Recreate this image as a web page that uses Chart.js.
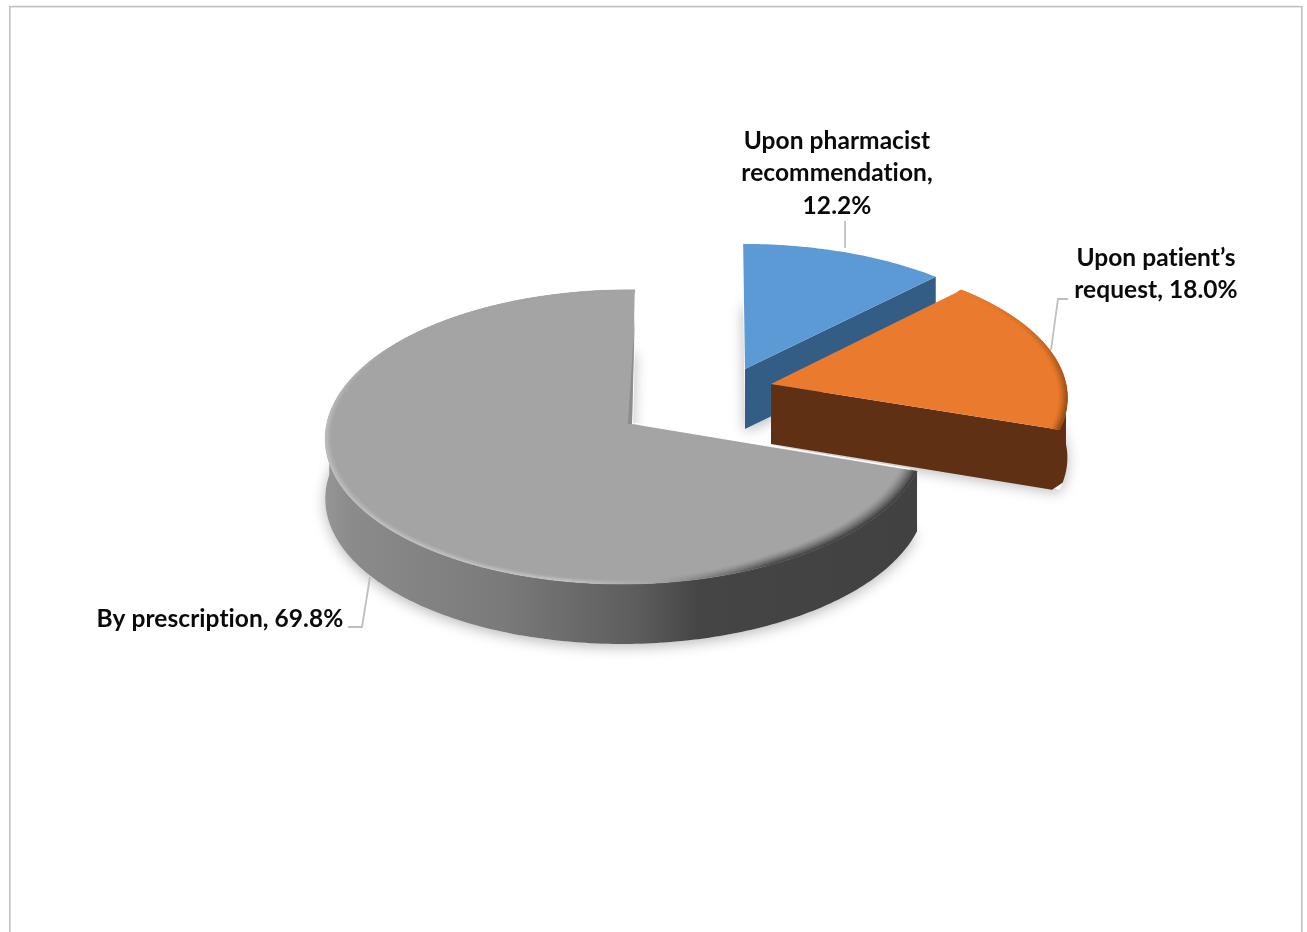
<!DOCTYPE html>
<html>
<head>
<meta charset="utf-8">
<title>Dispensing of medicines</title>
<script src="https://cdn.jsdelivr.net/npm/chart.js@4/dist/chart.umd.js"></script>
<style>
    html, body { margin: 0; padding: 0; background: #fff; overflow: hidden; }
    canvas { display: block; }
</style>
</head>
<body>
<canvas id="pie" width="1307" height="932"></canvas>
<script>
var categories = ["Upon pharmacist recommendation", "Upon patient\u2019s request", "By prescription"];
var shares = [12.2, 18.0, 69.8];
var faceColors = ["#5b9ad5", "#ea7b2e", "#a4a4a4"];

// how each slice lies on the tilted plate, relative to the pie centre
var sliceViews = [
    { dx: 91.5, dy: -97, sx: 0.632, sy: 0.292, persp: 0.088, lean: 0, shear: -2 },
    { dx: 117.5, dy: -82, sx: 0.633, sy: 0.298, persp: 0.088, lean: 0, shear: -3 },
    { dx: -21.5, dy: -42, sx: 0.642, sy: 0.313, persp: 0.088, lean: -0.02, shear: 3 }
];
var plateDepth = 60;

var wallFills = [
    [[0, "#335d84"], [1, "#335d84"]],
    [[0, "#5f3013"], [1, "#5f3013"]],
    [[0, "#959595"], [0.04, "#8b8b8b"], [0.3, "#7a7a7a"], [0.53, "#5c5c5c"], [0.63, "#454545"], [1, "#414141"]]
];

// bevel along the rim: [angle in degrees, colour, width as a share of the radius]
var rimStops = [
    [],
    [[-46, "#ea7b2e", 0.02], [-25, "#d46c25", 0.025], [-8, "#b05a1b", 0.03], [19, "#8f4816", 0.03]],
    [[18, "#3f3f3f", 0.055], [62, "#484848", 0.055], [84, "#a4a4a4", 0.03], [100, "#c2c2c2", 0.024],
        [180, "#bcbcbc", 0.02], [215, "#a4a4a4", 0.02], [270, "#a4a4a4", 0.02]]
];

var labelSpots = [
    { x: 837, y: 141, wrap: 215 },
    { x: 1156, y: 258, wrap: 175 },
    { x: 220, y: 619, wrap: 400 }
];
var labelFont = "bold 24.5px Lato";
var labelLeading = 32.5;
var leaderLines = [
    [[845, 221], [845, 248]],
    [[1068, 299], [1058, 299], [1051, 350]],
    [[348, 627], [362, 627], [370, 577]]
];

var project = function (arc, view, angle, r, drop) {
    var u = Math.cos(angle) * r;
    var v = Math.sin(angle) * r;
    var w = 1 / (1 - view.persp * v - view.lean * u);
    return {
        x: arc.x + view.dx + arc.outerRadius * view.sx * u * w - view.shear * v * w,
        y: arc.y + view.dy + arc.outerRadius * view.sy * v * w + drop
    };
};

var arcPoints = function (arc, view, from, to, r, drop) {
    var pts = [];
    var steps = Math.max(2, Math.ceil(Math.abs(to - from) / (Math.PI / 180)));
    for (var i = 0; i <= steps; i++) {
        pts.push(project(arc, view, from + (to - from) * i / steps, r, drop));
    }
    return pts;
};

var tracePath = function (ctx, pts) {
    ctx.beginPath();
    ctx.moveTo(pts[0].x, pts[0].y);
    for (var i = 1; i < pts.length; i++) {
        ctx.lineTo(pts[i].x, pts[i].y);
    }
    ctx.closePath();
};

var facePoints = function (arc, view, drop) {
    var pts = arcPoints(arc, view, arc.startAngle, arc.endAngle, 1, drop);
    pts.push(project(arc, view, 0, 0, drop));
    return pts;
};

var parseHex = function (hex) {
    return [parseInt(hex.slice(1, 3), 16), parseInt(hex.slice(3, 5), 16), parseInt(hex.slice(5, 7), 16)];
};

var mix = function (a, b, t) {
    return [a[0] + (b[0] - a[0]) * t, a[1] + (b[1] - a[1]) * t, a[2] + (b[2] - a[2]) * t];
};

var rimAt = function (stops, deg) {
    var last = stops[stops.length - 1];
    if (deg <= stops[0][0]) return { color: parseHex(stops[0][1]), width: stops[0][2] };
    for (var i = 1; i < stops.length; i++) {
        if (deg <= stops[i][0]) {
            var t = (deg - stops[i - 1][0]) / (stops[i][0] - stops[i - 1][0]);
            return {
                color: mix(parseHex(stops[i - 1][1]), parseHex(stops[i][1]), t),
                width: stops[i - 1][2] + (stops[i][2] - stops[i - 1][2]) * t
            };
        }
    }
    return { color: parseHex(last[1]), width: last[2] };
};

var drawRim = function (ctx, arc, view, i) {
    var stops = rimStops[i];
    if (!stops.length) return;
    var face = parseHex(faceColors[i]);
    var bands = 7;
    var step = Math.PI / 180;
    for (var b = 0; b < bands; b++) {
        var t = Math.pow((b + 1) / bands, 1.4);
        for (var a = arc.startAngle; a < arc.endAngle; a += step) {
            var next = Math.min(a + step, arc.endAngle);
            var rim = rimAt(stops, a * 180 / Math.PI);
            var rimNext = rimAt(stops, next * 180 / Math.PI);
            var c = mix(face, rim.color, t);
            var color = "rgb(" + Math.round(c[0]) + "," + Math.round(c[1]) + "," + Math.round(c[2]) + ")";
            tracePath(ctx, [
                project(arc, view, a, 1 - rim.width * (1 - b / bands), 0),
                project(arc, view, next, 1 - rimNext.width * (1 - b / bands), 0),
                project(arc, view, next, 1 - rimNext.width * (1 - (b + 1) / bands), 0),
                project(arc, view, a, 1 - rim.width * (1 - (b + 1) / bands), 0)
            ]);
            ctx.fillStyle = color;
            ctx.strokeStyle = color;
            ctx.lineWidth = 0.6;
            ctx.fill();
            ctx.stroke();
        }
    }
};

var drawWalls = function (ctx, arc, view, i) {
    var left = project(arc, view, Math.PI, 1, 0).x;
    var right = i === 2 ? project(arc, view, arc.startAngle, 1, 0).x : project(arc, view, 0, 1, 0).x;
    var fill = ctx.createLinearGradient(left, 0, right, 0);
    wallFills[i].forEach(function (stop) {
        fill.addColorStop(stop[0], stop[1]);
    });
    ctx.fillStyle = fill;

    var centre = project(arc, view, 0, 0, 0);
    var corner = project(arc, view, arc.endAngle, 1, 0);
    var cutVisible = Math.cos(arc.endAngle) > 0.01;
    var from = Math.max(arc.startAngle, 0);
    var to = Math.min(arc.endAngle, Math.PI * 1.02);

    if (cutVisible && to > from) {
        // radial cut and outer wall as one shape, with the bottom corner rounded off
        var rounded = project(arc, view, arc.endAngle, 0.975, plateDepth + 1);
        tracePath(ctx, [centre].concat(arcPoints(arc, view, arc.endAngle, from, 1, 0),
            arcPoints(arc, view, from, arc.endAngle - 0.05, 1, plateDepth),
            [rounded, { x: centre.x, y: centre.y + plateDepth }]));
        ctx.fill();
    } else if (cutVisible) {
        tracePath(ctx, [centre, corner, { x: corner.x, y: corner.y + plateDepth }, { x: centre.x, y: centre.y + plateDepth }]);
        ctx.fill();
    } else if (to > from) {
        tracePath(ctx, arcPoints(arc, view, from, to, 1, 0).concat(arcPoints(arc, view, from, to, 1, plateDepth).reverse()));
        ctx.fill();
    }
};

var wrapLabel = function (ctx, text, width) {
    var lines = [];
    var line = "";
    text.split(" ").forEach(function (word) {
        var test = line ? line + " " + word : word;
        if (line && ctx.measureText(test).width > width) {
            lines.push(line);
            line = word;
        } else {
            line = test;
        }
    });
    lines.push(line);
    return lines;
};

var platePlugin = {
    id: "plate",
    beforeDraw: function (chart) {
        var ctx = chart.ctx;
        ctx.save();
        ctx.fillStyle = "#fff";
        ctx.fillRect(0, 0, chart.width, chart.height);
        ctx.strokeStyle = "#c0c0c0";
        ctx.lineWidth = 1.6;
        ctx.strokeRect(9.8, 6.6, 1292, 1000);
        ctx.restore();
    },
    // the slices are painted here from the arc elements, so the plain flat arcs are skipped
    beforeDatasetsDraw: function (chart) {
        var ctx = chart.ctx;
        var arcs = chart.getDatasetMeta(0).data;
        ctx.save();

        // soft shadow under each plate
        arcs.forEach(function (arc, i) {
            ctx.save();
            ctx.shadowColor = "rgba(0,0,0,0.28)";
            ctx.shadowBlur = 14;
            ctx.shadowOffsetY = 3;
            ctx.fillStyle = "#fff";
            tracePath(ctx, facePoints(arc, sliceViews[i], plateDepth));
            ctx.fill();
            ctx.restore();
        });

        arcs.forEach(function (arc, i) {
            var view = sliceViews[i];
            drawWalls(ctx, arc, view, i);
            tracePath(ctx, facePoints(arc, view, 0));
            ctx.fillStyle = arc.options.backgroundColor;
            ctx.fill();
            drawRim(ctx, arc, view, i);
        });

        // thin inner cut along the back edge of the large slice, and the gap line in front of the orange wall
        var big = arcs[2];
        var bigView = sliceViews[2];
        var apex = project(big, bigView, 0, 0, 0);
        var back = project(big, bigView, big.endAngle, 1, 0);
        tracePath(ctx, [{ x: back.x, y: back.y + 28 }, apex, { x: apex.x - 4, y: apex.y }]);
        ctx.fillStyle = "#8c8c8c";
        ctx.fill();
        var corner = project(big, bigView, big.startAngle, 0.975, 0);
        ctx.beginPath();
        ctx.moveTo(apex.x + 2, apex.y - 1);
        ctx.lineTo(corner.x, corner.y - 1);
        ctx.strokeStyle = "#fff";
        ctx.lineWidth = 1.2;
        ctx.stroke();

        ctx.restore();
        return false;
    },
    afterDraw: function (chart) {
        var ctx = chart.ctx;
        ctx.save();
        ctx.strokeStyle = "#bfbfbf";
        ctx.lineWidth = 1.8;
        leaderLines.forEach(function (line) {
            ctx.beginPath();
            line.forEach(function (p, k) {
                if (k === 0) ctx.moveTo(p[0], p[1]);
                else ctx.lineTo(p[0], p[1]);
            });
            ctx.stroke();
        });

        ctx.font = labelFont;
        ctx.letterSpacing = "0.05px";
        ctx.fillStyle = "#0a0a0a";
        ctx.textAlign = "center";
        ctx.textBaseline = "middle";
        categories.forEach(function (name, i) {
            var spot = labelSpots[i];
            var lines = wrapLabel(ctx, name + ", " + shares[i].toFixed(1) + "%", spot.wrap);
            lines.forEach(function (line, k) {
                ctx.fillText(line, spot.x, spot.y + k * labelLeading);
            });
        });
        ctx.restore();
    }
};

new Chart(document.getElementById("pie"), {
    type: "pie",
    data: {
        labels: categories,
        datasets: [{
            data: shares,
            backgroundColor: faceColors,
            borderWidth: 0
        }]
    },
    options: {
        responsive: false,
        animation: false,
        events: [],
        layout: { padding: 0 },
        plugins: {
            legend: { display: false },
            tooltip: { enabled: false }
        }
    },
    plugins: [platePlugin]
});
</script>
</body>
</html>
